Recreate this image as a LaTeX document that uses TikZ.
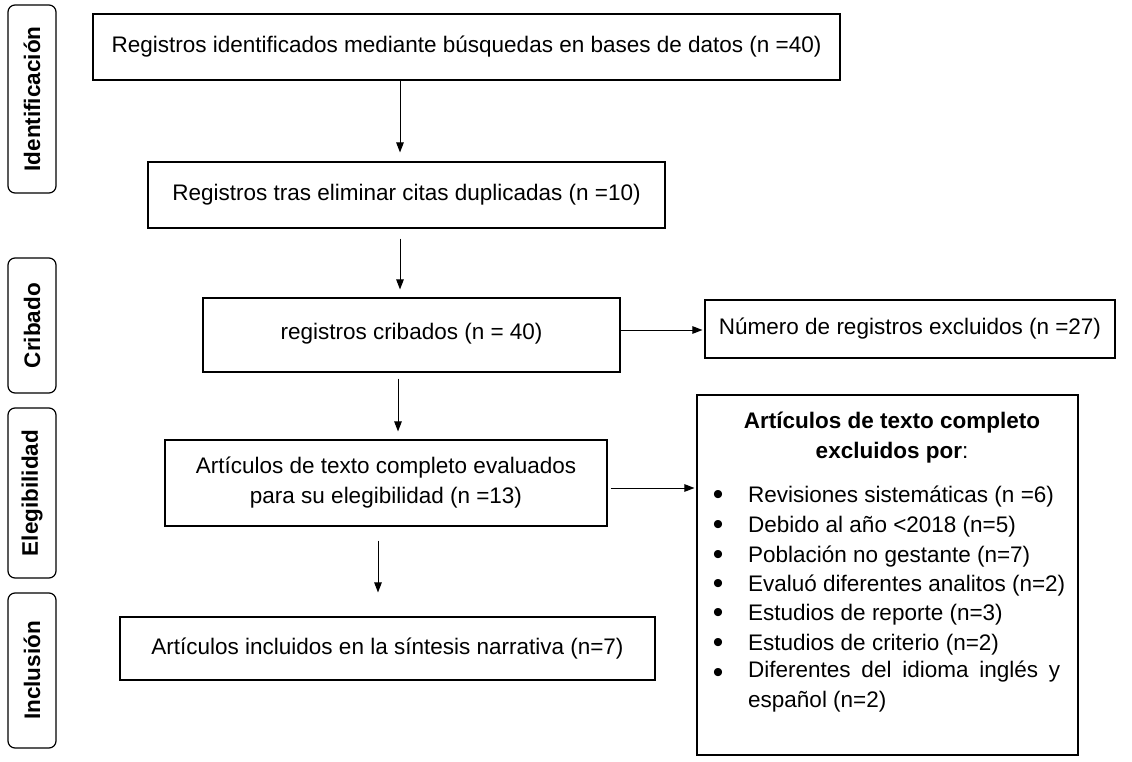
\documentclass[tikz,border=0pt]{standalone}
\usepackage{fontspec}
\setmainfont{Liberation Sans}
\usetikzlibrary{arrows.meta}
\begin{document}
\begin{tikzpicture}[x=1pt,y=-1pt,
  every node/.style={font=\fontsize{22.5}{30}\selectfont, inner sep=0pt},
  box/.style={draw, line width=1.1pt},
  stage/.style={draw, line width=1.2pt, rounded corners=7pt, rotate=90, minimum height=48pt, font=\fontsize{22.5}{30}\selectfont\bfseries},
  arr/.style={line width=1pt, -{Triangle[length=10pt,width=7.5pt]}},
  itm/.style={anchor=west},
  bul/.style={anchor=center, font=\fontsize{30}{30}\selectfont}]
\useasboundingbox (0,0) rectangle (1132,762);
% stage labels
\node[stage, minimum width=188pt] (s1) at (32,99) {Identificación};
\node[stage, minimum width=135pt] (s2) at (32,325.5) {Cribado};
\node[stage, minimum width=170pt] (s3) at (32,493) {Elegibilidad};
\node[stage, minimum width=155pt] (s4) at (32,670.5) {Inclusión};
% main boxes
\node[box, minimum width=747pt, minimum height=66pt] (b1) at (466.5,47) {Registros identificados mediante búsquedas en bases de datos (n =40)};
\node[box, minimum width=517pt, minimum height=66pt] (b2) at (406.5,195) {Registros tras eliminar citas duplicadas (n =10)};
\node[box, minimum width=417pt, minimum height=74pt] (b3) at (411.5,335) {\raisebox{7pt}{registros cribados (n = 40)}};
\node[box, minimum width=410pt, minimum height=58pt] (b4) at (910,329) {Número de registros excluidos (n =27)};
\node[box, minimum width=442pt, minimum height=86pt, align=center] (b5) at (386,483) {Artículos de texto completo evaluados\\para su elegibilidad (n =13)};
\node[box, minimum width=381pt, minimum height=360pt] (b6) at (887.5,575) {};
\node[box, minimum width=535pt, minimum height=63pt] (b7) at (387.5,648.5) {Artículos incluidos en la síntesis narrativa (n=7)};
% excluded list
\node[align=center] (t6) at (892,438) {\bfseries Artículos de texto completo\\\textbf{excluidos por}:};
\node[bul] (p1) at (718,497) {\textbullet};
\node[itm] (i1) at (748,497) {Revisiones sistemáticas (n =6)};
\node[bul] (p2) at (718,527) {\textbullet};
\node[itm] (i2) at (748,527) {Debido al año <2018 (n=5)};
\node[bul] (p3) at (718,557) {\textbullet};
\node[itm] (i3) at (748,557) {Población no gestante (n=7)};
\node[bul] (p4) at (718,586) {\textbullet};
\node[itm] (i4) at (748,586) {Evaluó diferentes analitos (n=2)};
\node[bul] (p5) at (718,615) {\textbullet};
\node[itm] (i5) at (748,615) {Estudios de reporte (n=3)};
\node[bul] (p6) at (718,645) {\textbullet};
\node[itm] (i6) at (748,645) {Estudios de criterio (n=2)};
\node[bul] (p7) at (718,675) {\textbullet};
\node[itm, anchor=north west] (i7) at (748,661) {\parbox[t]{312pt}{\hbox to 312pt{Diferentes\hfill del\hfill idioma\hfill inglés\hfill y}\par español (n=2)}};
% connectors
\coordinate (xa) at (400,0);
\coordinate (xb) at (398,0);
\coordinate (xc) at (378,0);
\coordinate (ya) at (0,330);
\coordinate (yb) at (0,488);
\draw[arr] (b1.south -| xa) -- ([yshift=9pt]b2.north -| xa);
\draw[arr] ([yshift=-10pt]b2.south -| xa) -- ([yshift=8pt]b3.north -| xa);
\draw[arr] ([yshift=-6pt]b3.south -| xb) -- ([yshift=8pt]b5.north -| xb);
\draw[arr] ([yshift=-14pt]b5.south -| xc) -- ([yshift=24pt]b7.north -| xc);
\draw[arr] (b3.east |- ya) -- ([xshift=-2pt]b4.west |- ya);
\draw[arr] ([xshift=3pt]b5.east |- yb) -- ([xshift=-2pt]b6.west |- yb);
\end{tikzpicture}
\end{document}
